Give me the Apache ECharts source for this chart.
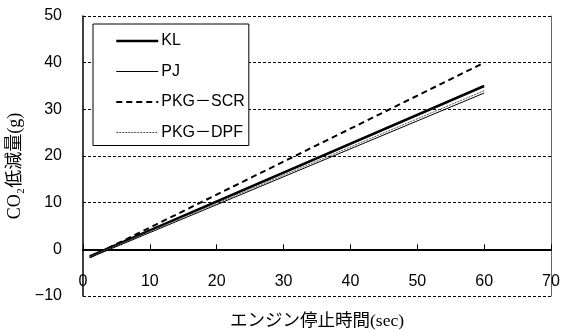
<!DOCTYPE html>
<html><head><meta charset="utf-8">
<script src="https://cdn.jsdelivr.net/npm/echarts@6/dist/echarts.min.js"></script>
<style>html,body{margin:0;padding:0;background:#fff}#c{width:561px;height:331px}</style>
</head><body><div id="c"></div>
<script>
const seriesNames = ['KL', 'PJ', 'PKG－SCR', 'PKG－DPF'];
const stopTime = [1, 60];
const klValues = [-1.5, 35.0];
const pjValues = [-1.8, 33.5];
const scrValues = [-1.7, 40.0];
const dpfValues = [-1.6, 34.0];
const xTicks = [0, 10, 20, 30, 40, 50, 60, 70];
const yTicks = [-10, 0, 10, 20, 30, 40, 50];

const pairs = v => stopTime.map((x, i) => [x, v[i]]);
const styles = [
  {color: '#000', width: 2.5, type: 'solid'},
  {color: '#000', width: 1, type: 'solid'},
  {color: '#000', width: 2, type: [6, 4]},
  {color: '#555', width: 1, type: [2, 1]}
];
const vals = [klValues, pjValues, scrValues, dpfValues];

const gridTop = 16, gridBottom = 35, H = 331;
const yMin = yTicks[0], yMax = yTicks[yTicks.length - 1];
// distance (px) from plot bottom up to the zero value, from the axis scale
const zeroOffset = (0 - yMin) / (yMax - yMin) * (H - gridTop - gridBottom);

const chart = echarts.init(document.getElementById('c'));
chart.setOption({
  animation: false,
  backgroundColor: '#fff',
  grid: {left: 83, right: 10, top: gridTop, bottom: gridBottom, containLabel: false, outerBoundsMode: 'none'},
  legend: {
    orient: 'vertical', left: 93, top: 24,
    padding: [9, 4, 5, 22],
    itemWidth: 42, itemHeight: 14, itemGap: 14.5,
    borderColor: '#000', borderWidth: 1, backgroundColor: '#fff',
    itemStyle: {opacity: 0},
    textStyle: {fontFamily: 'Liberation Sans, Noto Sans CJK JP', fontSize: 16, color: '#000', padding: [0,0,0,-2]},
    data: seriesNames.map((n, i) => ({name: n, lineStyle: Object.assign({}, styles[i])}))
  },
  xAxis: {
    type: 'value', min: xTicks[0], max: xTicks[xTicks.length - 1], interval: 10,
    position: 'bottom', offset: -zeroOffset,
    name: 'エンジン停止時間(sec)', nameLocation: 'middle', nameGap: 63,
    nameTextStyle: {fontFamily: 'Liberation Serif, Noto Sans CJK JP', fontSize: 17.5, color: '#000'},
    axisLine: {onZero: false, lineStyle: {color: '#000', width: 2}},
    axisTick: {inside: true, length: 5, lineStyle: {color: '#000', width: 1}},
    axisLabel: {margin: 24, fontFamily: 'Liberation Sans', fontSize: 16, color: '#000'},
    splitLine: {show: false}
  },
  yAxis: [{
    type: 'value', min: yMin, max: yMax, interval: 10,
    name: 'CO₂低減量(g)', nameLocation: 'middle', nameGap: 52, nameRotate: 90,
    nameTextStyle: {fontFamily: 'Liberation Serif, Noto Sans CJK JP', fontSize: 18, color: '#000', padding: [0, 20, 0, 0]},
    axisLine: {show: true, lineStyle: {color: '#000', width: 1.5}},
    axisTick: {show: false},
    axisLabel: {margin: 21, fontFamily: 'Liberation Sans', fontSize: 16, color: '#000',
      formatter: v => String(v).replace('-', '−')},
    splitLine: {show: true, lineStyle: {color: '#000', width: 1, type: [3, 2]}}
  }, {
    type: 'value', min: yMin, max: yMax, interval: 10, position: 'right',
    axisLine: {show: true, lineStyle: {color: '#666', width: 1}},
    axisTick: {show: false}, axisLabel: {show: false}, splitLine: {show: false}
  }],
  series: seriesNames.map((n, i) => ({
    name: n, type: 'line', data: pairs(vals[i]), symbol: 'none',
    lineStyle: styles[i], itemStyle: {color: styles[i].color}, z: 3
  }))
});
</script></body></html>
